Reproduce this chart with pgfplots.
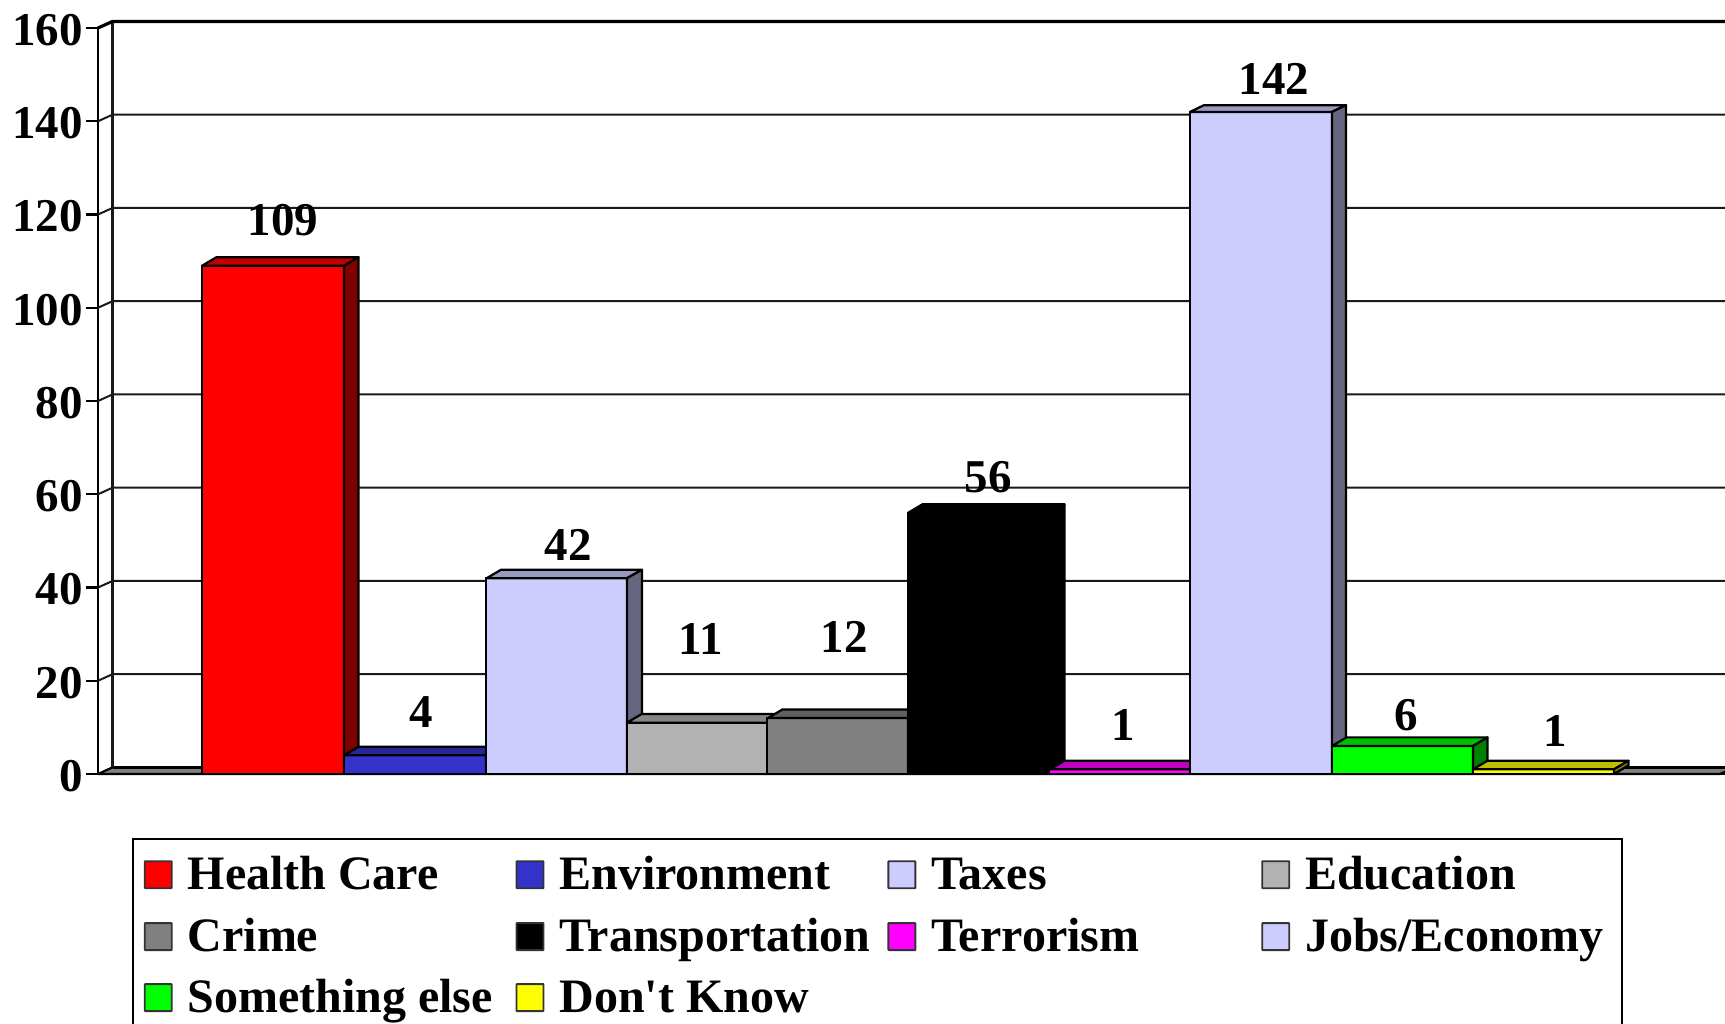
\documentclass[border=0pt]{standalone}
\usepackage{fontspec}
\setmainfont{Liberation Serif}
\newfontfamily\plainrm{Liberation Serif}
\usepackage{pgfplots}
\pgfplotsset{compat=1.18}
\definecolor{cRed}{HTML}{FF0000}\definecolor{cRedT}{HTML}{BF0000}\definecolor{cRedS}{HTML}{800000}
\definecolor{cBlue}{HTML}{3333CC}\definecolor{cBlueT}{HTML}{262699}\definecolor{cBlueS}{HTML}{1A1A66}
\definecolor{cLav}{HTML}{CCCCFF}\definecolor{cLavT}{HTML}{9999BF}\definecolor{cLavS}{HTML}{666680}
\definecolor{cEdu}{HTML}{B2B2B2}\definecolor{cEduT}{HTML}{868686}\definecolor{cEduS}{HTML}{595959}
\definecolor{cCri}{HTML}{808080}\definecolor{cCriT}{HTML}{606060}\definecolor{cCriS}{HTML}{404040}
\definecolor{cMag}{HTML}{FF00FF}\definecolor{cMagT}{HTML}{BF00BF}\definecolor{cMagS}{HTML}{800080}
\definecolor{cGrn}{HTML}{00FF00}\definecolor{cGrnT}{HTML}{00BF00}\definecolor{cGrnS}{HTML}{008000}
\definecolor{cYel}{HTML}{FFFF00}\definecolor{cYelT}{HTML}{BFBF00}\definecolor{cYelS}{HTML}{808000}
\newcommand\bigb{\fontsize{47}{56}\selectfont\bfseries}
\newcommand\legb{\fontsize{48}{56}\selectfont\bfseries}
\pgfplotsset{
  front/.style={ybar,bar width=141.5,bar shift=0pt,draw=black,line width=2.2pt,forget plot},
  poly/.style={draw=black,line width=2.2pt,line join=round,mark=none,forget plot,fill=#1},
  grd/.style={black!90,line width=2pt,mark=none,forget plot},
  swatch/.style={legend image code/.code={\draw[#1,draw=black!80,line width=1.8pt,rounded corners=0.5pt] (0pt,1.5pt) rectangle (27pt,28.5pt);\path (40pt,0pt);}},
}
\begin{document}
\begin{tikzpicture}[x=1pt,y=1pt]
\useasboundingbox (0,0) rectangle (1725,1024);
\begin{axis}[
  at={(98pt,250pt)},anchor=south west,
  scale only axis,width=1627pt,height=746pt,
  xmin=98,xmax=1725,ymin=0,ymax=160,clip=false,
  axis x line=none,axis y line=left,
  y axis line style={-,line width=2.4pt},
  ytick={0,20,...,160},
  tick align=outside,major tick length=12pt,
  every tick/.style={black,line width=2.4pt},
  /pgf/number format/assume math mode=true,
  yticklabel style={font=\bigb,inner sep=0pt,xshift=-3pt,yshift=-2pt},
  legend columns=4,
  legend cell align=left,
  legend style={at={(axis cs:132,-13.7)},anchor=north west,draw=black,line width=1.8pt,
    inner xsep=11pt,inner ysep=5pt,
    font=\legb,row sep=1pt,fill=white,
    /tikz/every even column/.append style={column sep=0pt},
    nodes={inner ysep=0pt,minimum height=60pt,anchor=base west}},
]
% back wall, floor
\addplot[poly=cCri,draw=black] coordinates {(98,0)(112.5,1.42)(1735,1.42)(1720,0)} -- cycle;
\addplot[black,line width=3.2pt,mark=none,forget plot] coordinates {(112.5,1.42)(1725,1.42)};
\addplot[grd,line width=2.4pt] coordinates {(112.5,1.4)(112.5,161.4)};
\addplot[black,line width=3.2pt,mark=none,forget plot] coordinates {(98,160)(112.5,161.4)(1725,161.4)};
\addplot[black,line width=2.4pt,mark=none,forget plot] coordinates {(86,0)(1725,0)};
% grid lines and the slanted tick links
\addplot[grd] coordinates {(98,20)(112.5,21.4)(1725,21.4)};
\addplot[grd] coordinates {(98,40)(112.5,41.4)(1725,41.4)};
\addplot[grd] coordinates {(98,60)(112.5,61.4)(1725,61.4)};
\addplot[grd] coordinates {(98,80)(112.5,81.4)(1725,81.4)};
\addplot[grd] coordinates {(98,100)(112.5,101.4)(1725,101.4)};
\addplot[grd] coordinates {(98,120)(112.5,121.4)(1725,121.4)};
\addplot[grd] coordinates {(98,140)(112.5,141.4)(1725,141.4)};
% Health Care
\addplot[front,fill=cRed] coordinates {(273,109)};
\addplot[poly=cRedT] coordinates {(202,109)(216.5,110.85)(358.5,110.85)(344,109)} -- cycle;
\addplot[poly=cRedS] coordinates {(344,0)(358.5,1.85)(358.5,110.85)(344,109)} -- cycle;
% Environment
\addplot[front,fill=cBlue] coordinates {(415,4)};
\addplot[poly=cBlueT] coordinates {(344,4)(358.5,5.85)(500.5,5.85)(486,4)} -- cycle;
\addplot[poly=cBlueS] coordinates {(486,0)(500.5,1.85)(500.5,5.85)(486,4)} -- cycle;
% Taxes
\addplot[front,fill=cLav] coordinates {(556.5,42)};
\addplot[poly=cLavT] coordinates {(486.7,42)(501,43.8)(642,43.8)(627,42)} -- cycle;
\addplot[poly=cLavS] coordinates {(627,0)(642,1.85)(642,43.8)(627,42)} -- cycle;
% Education
\addplot[front,fill=cEdu] coordinates {(697.5,11)};
\addplot[poly=cEduT] coordinates {(627,11)(641.5,12.85)(782.5,12.85)(768,11)} -- cycle;
\addplot[poly=cEduS] coordinates {(768,0)(782.5,1.85)(782.5,12.85)(768,11)} -- cycle;
% Crime
\addplot[front,fill=cCri] coordinates {(838,12)};
\addplot[poly=cCriT] coordinates {(768,12)(782.5,13.85)(922.5,13.85)(908,12)} -- cycle;
\addplot[poly=cCriS] coordinates {(908,0)(922.5,1.85)(922.5,13.85)(908,12)} -- cycle;
% Transportation
\addplot[front,fill=black] coordinates {(979,56)};
\addplot[poly=black] coordinates {(908,56)(922.5,57.85)(1064.5,57.85)(1050,56)} -- cycle;
\addplot[poly=black] coordinates {(1050,0)(1064.5,1.85)(1064.5,57.85)(1050,56)} -- cycle;
% Terrorism
\addplot[front,fill=cMag] coordinates {(1120,1)};
\addplot[poly=cMagT] coordinates {(1050,1)(1064.5,2.85)(1204.5,2.85)(1190,1)} -- cycle;
\addplot[poly=cMagS] coordinates {(1190,0)(1204.5,1.85)(1204.5,2.85)(1190,1)} -- cycle;
% Jobs/Economy
\addplot[front,fill=cLav] coordinates {(1261,142)};
\addplot[poly=cLavT] coordinates {(1190,142)(1204,143.45)(1346,143.45)(1332,142)} -- cycle;
\addplot[poly=cLavS] coordinates {(1332,0)(1346,1.85)(1346,143.45)(1332,142)} -- cycle;
% Something else
\addplot[front,fill=cGrn] coordinates {(1402.5,6)};
\addplot[poly=cGrnT] coordinates {(1332,6)(1346.5,7.85)(1487.5,7.85)(1473,6)} -- cycle;
\addplot[poly=cGrnS] coordinates {(1473,0)(1487.5,1.85)(1487.5,7.85)(1473,6)} -- cycle;
% Don't Know
\addplot[front,fill=cYel] coordinates {(1543.5,1)};
\addplot[poly=cYelT] coordinates {(1473,1)(1487.5,2.85)(1628.5,2.85)(1614,1)} -- cycle;
\addplot[poly=cYelS] coordinates {(1614,0)(1628.5,1.85)(1628.5,2.85)(1614,1)} -- cycle;
% legend
\addlegendimage{swatch=cRed,fill=cRed}\addlegendentry{\makebox[326pt][l]{Health Care}}
\addlegendimage{swatch=cBlue,fill=cBlue}\addlegendentry{\makebox[326pt][l]{Environment}}
\addlegendimage{swatch=cLav,fill=cLav}\addlegendentry{\makebox[328pt][l]{Taxes}}
\addlegendimage{swatch=cEdu,fill=cEdu}\addlegendentry{\makebox[304pt][l]{Education}}
\addlegendimage{swatch=cCri,fill=cCri}\addlegendentry{Crime}
\addlegendimage{swatch=black,fill=black}\addlegendentry{Transportation}
\addlegendimage{swatch=cMag,fill=cMag}\addlegendentry{Terrorism}
\addlegendimage{swatch=cLav,fill=cLav}\addlegendentry{Jobs/Economy}
\addlegendimage{swatch=cGrn,fill=cGrn}\addlegendentry{Something else}
\addlegendimage{swatch=cYel,fill=cYel}\addlegendentry{{\plainrm\bfseries Don't Know}}
% value labels
\node[font=\bigb] at (axis cs:283,118.8) {109};
\node[font=\bigb] at (axis cs:421,13.3) {4};
\node[font=\bigb] at (axis cs:568,49.1) {42};
\node[font=\bigb] at (axis cs:701,29.0) {11};
\node[font=\bigb] at (axis cs:844,29.4) {12};
\node[font=\bigb] at (axis cs:988,63.7) {56};
\node[font=\bigb] at (axis cs:1123,10.5) {1};
\node[font=\bigb] at (axis cs:1274,149.1) {142};
\node[font=\bigb] at (axis cs:1406,12.7) {6};
\node[font=\bigb] at (axis cs:1555,9.2) {1};
\end{axis}
\end{tikzpicture}
\end{document}
